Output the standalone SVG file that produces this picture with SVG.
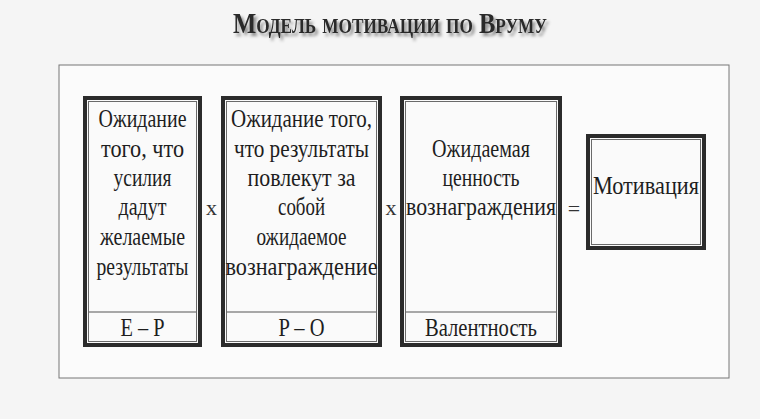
<svg xmlns="http://www.w3.org/2000/svg" width="760" height="419" viewBox="0 0 760 419">
<defs>
<filter id="sh" x="-10%" y="-50%" width="120%" height="200%"><feDropShadow dx="2.5" dy="3" stdDeviation="1.6" flood-color="#000" flood-opacity="0.45"/></filter>
<style>
.outer{fill:#fafafa;stroke:#2b2b2b;stroke-width:4}
.inner{fill:none;stroke:#6a6a6a;stroke-width:1}
.div{stroke:#555;stroke-width:1.2}
.t{font-family:"Liberation Serif","Times New Roman",serif;font-size:26px;fill:#1e1e1e;text-anchor:middle}
.op{font-family:"Liberation Serif","Times New Roman",serif;font-size:22px;fill:#333;text-anchor:middle}
.ttl{font-family:"Liberation Serif","Times New Roman",serif;font-size:30px;font-weight:bold;font-variant:small-caps;text-anchor:middle;fill:#2a2a2a}
</style>
</defs>
<rect x="0" y="0" width="760" height="419" fill="#f5f5f5"/>
<g id="title">
<text class="ttl" x="390" y="33" filter="url(#sh)" textLength="314" lengthAdjust="spacingAndGlyphs">Модель мотивации по Вруму</text>
</g>
<g id="frame">
<rect x="59" y="65" width="670" height="313" fill="#fbfbfb" stroke="#777" stroke-width="1"/>
</g>
<g id="node-ep">
<rect class="outer" x="85" y="98" width="115" height="247"/>
<rect class="inner" x="88.5" y="101.5" width="108" height="240"/>
<line class="div" x1="89" y1="312" x2="196" y2="312"/>
<text class="t" x="142.5" y="127" textLength="88" lengthAdjust="spacingAndGlyphs">Ожидание</text>
<text class="t" x="142.5" y="157" textLength="83" lengthAdjust="spacingAndGlyphs">того, что</text>
<text class="t" x="142.5" y="186" textLength="58" lengthAdjust="spacingAndGlyphs">усилия</text>
<text class="t" x="142.5" y="215" textLength="48" lengthAdjust="spacingAndGlyphs">дадут</text>
<text class="t" x="142.5" y="245" textLength="85" lengthAdjust="spacingAndGlyphs">желаемые</text>
<text class="t" x="142.5" y="275" textLength="92" lengthAdjust="spacingAndGlyphs">результаты</text>
<text class="t" x="142.5" y="336" textLength="44" lengthAdjust="spacingAndGlyphs">E – P</text>
</g>
<g id="node-po">
<rect class="outer" x="223" y="98" width="157" height="247"/>
<rect class="inner" x="226.5" y="101.5" width="150" height="240"/>
<line class="div" x1="227" y1="312" x2="376" y2="312"/>
<text class="t" x="301.5" y="127" textLength="141" lengthAdjust="spacingAndGlyphs">Ожидание того,</text>
<text class="t" x="301.5" y="157" textLength="135" lengthAdjust="spacingAndGlyphs">что результаты</text>
<text class="t" x="301.5" y="186" textLength="108" lengthAdjust="spacingAndGlyphs">повлекут за</text>
<text class="t" x="301.5" y="215" textLength="47" lengthAdjust="spacingAndGlyphs">собой</text>
<text class="t" x="301.5" y="245" textLength="90" lengthAdjust="spacingAndGlyphs">ожидаемое</text>
<text class="t" x="301.5" y="275" textLength="152" lengthAdjust="spacingAndGlyphs">вознаграждение</text>
<text class="t" x="301.5" y="336" textLength="46" lengthAdjust="spacingAndGlyphs">P – O</text>
</g>
<g id="node-valence">
<rect class="outer" x="402" y="98" width="158" height="247"/>
<rect class="inner" x="405.5" y="101.5" width="151" height="240"/>
<line class="div" x1="406" y1="312" x2="556" y2="312"/>
<text class="t" x="481" y="157" textLength="98" lengthAdjust="spacingAndGlyphs">Ожидаемая</text>
<text class="t" x="481" y="186" textLength="77" lengthAdjust="spacingAndGlyphs">ценность</text>
<text class="t" transform="translate(481,215) scale(0.85,1)" x="0" y="0" textLength="176.5" lengthAdjust="spacingAndGlyphs">вознаграждения</text>
<text class="t" x="481" y="336" textLength="112" lengthAdjust="spacingAndGlyphs">Валентность</text>
</g>
<g id="node-motivation">
<rect class="outer" x="588" y="136" width="116" height="112"/>
<rect class="inner" x="591.5" y="139.5" width="109" height="105"/>
<text class="t" transform="translate(646,194) scale(0.85,1)" x="0" y="0" textLength="124.7" lengthAdjust="spacingAndGlyphs">Мотивация</text>
</g>
<g id="connectors">
<text class="op" x="211.5" y="215">x</text>
<text class="op" x="391" y="215">x</text>
<text class="op" x="574" y="216">=</text>
</g>
</svg>
